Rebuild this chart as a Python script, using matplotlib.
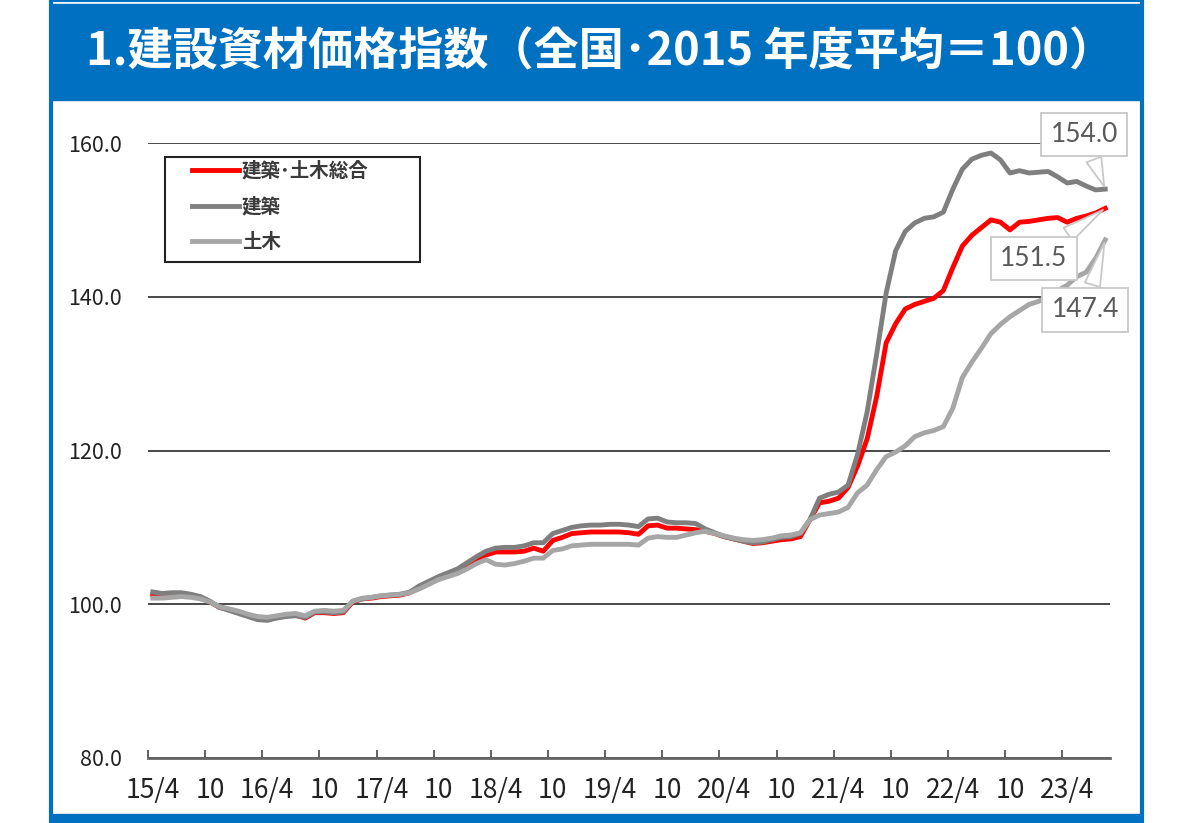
import matplotlib
matplotlib.use("Agg")
import matplotlib.pyplot as plt
from matplotlib.patches import Rectangle
import numpy as np

plt.rcParams['font.family'] = ['Noto Sans CJK JP', 'DejaVu Sans']

# monthly index, 2015/4 .. 2023/8 (2015 fiscal-year average = 100)
total = [101.2, 101.0, 101.2, 101.3, 101.1, 100.9, 100.3, 99.6, 99.3, 98.9,
         98.5, 98.1, 98.0, 98.3, 98.5, 98.6, 98.2, 98.9, 98.9, 98.8,
         98.9, 100.3, 100.7, 100.8, 101.0, 101.1, 101.2, 101.5, 102.2, 102.8,
         103.4, 103.9, 104.4, 105.0, 105.7, 106.4, 106.8, 106.8, 106.8, 106.9,
         107.3, 106.9, 108.3, 108.7, 109.2, 109.3, 109.4, 109.4, 109.4, 109.4,
         109.3, 109.1, 110.2, 110.3, 109.9, 109.9, 109.8, 109.7, 109.5, 109.2,
         108.8, 108.5, 108.2, 107.9, 108.0, 108.2, 108.4, 108.5, 108.8, 111.0,
         113.2, 113.4, 113.8, 115.2, 118.0, 121.5, 127.0, 134.0, 136.5, 138.4,
         139.0, 139.4, 139.8, 140.8, 143.8, 146.6, 148.0, 149.0, 150.0, 149.7,
         148.7, 149.7, 149.8, 150.0, 150.2, 150.3, 149.7, 150.2, 150.5, 150.9,
         151.5]
building = [101.6, 101.4, 101.5, 101.5, 101.3, 101.0, 100.4, 99.6, 99.2, 98.8,
            98.4, 98.0, 97.9, 98.2, 98.4, 98.5, 98.3, 99.0, 99.0, 98.9,
            99.0, 100.4, 100.7, 100.9, 101.1, 101.2, 101.3, 101.6, 102.4, 103.0,
            103.6, 104.1, 104.6, 105.4, 106.2, 106.9, 107.3, 107.4, 107.4, 107.6,
            108.0, 108.0, 109.2, 109.6, 110.0, 110.2, 110.3, 110.3, 110.4, 110.4,
            110.3, 110.1, 111.1, 111.2, 110.7, 110.6, 110.6, 110.5, 109.8, 109.3,
            108.8, 108.5, 108.2, 108.0, 108.1, 108.4, 108.7, 108.8, 109.2, 111.0,
            113.8, 114.3, 114.6, 115.5, 119.5, 125.0, 132.5, 140.5, 146.0, 148.5,
            149.6, 150.2, 150.4, 151.0, 154.0, 156.6, 157.9, 158.4, 158.7, 157.8,
            156.1, 156.4, 156.1, 156.2, 156.3, 155.6, 154.8, 155.0, 154.4, 153.9,
            154.0]
civil = [100.8, 100.8, 100.9, 101.0, 100.9, 100.7, 100.3, 99.7, 99.4, 99.1,
         98.7, 98.4, 98.3, 98.5, 98.7, 98.8, 98.5, 99.1, 99.2, 99.1,
         99.2, 100.4, 100.8, 100.9, 101.1, 101.2, 101.3, 101.5, 102.0, 102.6,
         103.2, 103.6, 104.0, 104.6, 105.3, 105.8, 105.2, 105.1, 105.3, 105.6,
         106.0, 106.0, 107.0, 107.2, 107.6, 107.7, 107.8, 107.8, 107.8, 107.8,
         107.8, 107.7, 108.6, 108.8, 108.7, 108.7, 109.0, 109.3, 109.5, 109.2,
         108.9, 108.6, 108.4, 108.3, 108.4, 108.6, 108.9, 109.0, 109.3, 111.0,
         111.6, 111.8, 112.0, 112.6, 114.5, 115.5, 117.5, 119.2, 119.8, 120.6,
         121.8, 122.3, 122.6, 123.1, 125.5, 129.5, 131.5, 133.3, 135.2, 136.4,
         137.4, 138.2, 139.0, 139.4, 140.0, 140.8, 141.5, 142.6, 143.2, 145.0,
         147.4]
x_labels = ['15/4', '10', '16/4', '10', '17/4', '10', '18/4', '10', '19/4',
            '10', '20/4', '10', '21/4', '10', '22/4', '10', '23/4']
names = ['建築･土木総合', '建築', '土木']

BLUE = '#0070C0'
W, H = 1200, 823
fig = plt.figure(figsize=(W / 100, H / 100), dpi=100)

# blue frame and title band
fig.patches.append(Rectangle((51 / W, 0), (1142 - 51) / W, 1, transform=fig.transFigure,
                             facecolor='none', edgecolor=BLUE, lw=3, zorder=-2))
fig.patches.append(Rectangle((51 / W, 1 - 100 / H), (1142 - 51) / W, 96 / H,
                             transform=fig.transFigure, facecolor=BLUE, edgecolor=BLUE, zorder=-1))
fig.patches.append(Rectangle((51 / W, 0), (1142 - 51) / W, 9 / H,
                             transform=fig.transFigure, facecolor=BLUE, edgecolor=BLUE, zorder=-1))
fig.text(600 / W, 1 - 52 / H, '1.建設資材価格指数（全国･2015 年度平均＝100）',
         ha='center', va='center', color='white', fontsize=32.5, fontweight='bold')

ax = fig.add_axes([148 / W, 1 - 758 / H, (1110 - 148) / W, (758 - 143) / H])
x = np.arange(len(total))
ax.plot(x, total, color='#FF0000', lw=3.5, label=names[0], zorder=3)
ax.plot(x, building, color='#7F7F7F', lw=3.5, label=names[1], zorder=3)
ax.plot(x, civil, color='#A6A6A6', lw=3.5, label=names[2], zorder=3)

ax.set_xlim(-0.5, len(total) - 0.5)
ax.set_ylim(80, 160)
ax.set_yticks([80, 100, 120, 140, 160])
ax.set_yticklabels([f'{v:.1f}' for v in [80, 100, 120, 140, 160]])
ax.yaxis.grid(True, color='#3a3a3a', lw=1.3)
ax.set_axisbelow(True)
ax.tick_params(axis='y', length=0, labelsize=15.5, pad=19, labelcolor='#222222')

ax.set_xticks(np.arange(0, len(total), 6))
ax.set_xticklabels(x_labels)
ax.set_xticks(np.arange(-0.5, 96, 6), minor=True)
ax.tick_params(axis='x', which='major', length=0, labelsize=19, pad=14, labelcolor='#222222')
ax.tick_params(axis='x', which='minor', direction='in', length=6, width=1.3, color='#555555')

for s in ['left', 'right', 'top']:
    ax.spines[s].set_visible(False)
ax.spines['bottom'].set_color('#666666')
ax.spines['bottom'].set_linewidth(2)

# legend with a fixed frame like the original
ax.add_patch(Rectangle((0.0177, 0.8065), 0.265, 0.1705, transform=ax.transAxes,
                       facecolor='white', edgecolor='#222222', lw=1.5, zorder=5))
leg = ax.legend(loc='upper left', bbox_to_anchor=(0.046, 0.9705), frameon=False,
                fontsize=14, handlelength=2.4, handletextpad=0.15, borderpad=0,
                borderaxespad=0, labelspacing=0.85)
leg.set_zorder(6)
for t in leg.get_texts():
    t.set_fontweight('bold')
    t.set_color('#3a3a3a')

# value callouts for the latest month
last = len(total) - 1
box = dict(boxstyle='square,pad=0.35', fc='white', ec='#C8C8C8', lw=1.3)
arrow = dict(arrowstyle='wedge,tail_width=0.6,shrink_factor=0.5', fc='white', ec='#C8C8C8', lw=1.3)
ax.annotate(f'{building[-1]:.1f}', xy=(last, building[-1]), xytext=(97.8, 161.1),
            ha='center', va='center', fontsize=19, color='#595959', family='Lato',
            bbox=box, arrowprops=arrow, annotation_clip=False, zorder=7)
ax.annotate(f'{total[-1]:.1f}', xy=(last, total[-1]), xytext=(92.5, 145.0),
            ha='center', va='center', fontsize=19, color='#595959', family='Lato',
            bbox=box, arrowprops=arrow, zorder=7)
ax.annotate(f'{civil[-1]:.1f}', xy=(last, civil[-1]), xytext=(97.9, 138.3),
            ha='center', va='center', fontsize=19, color='#595959', family='Lato',
            bbox=box, arrowprops=arrow, zorder=7)

fig.savefig('out.png', dpi=100)
